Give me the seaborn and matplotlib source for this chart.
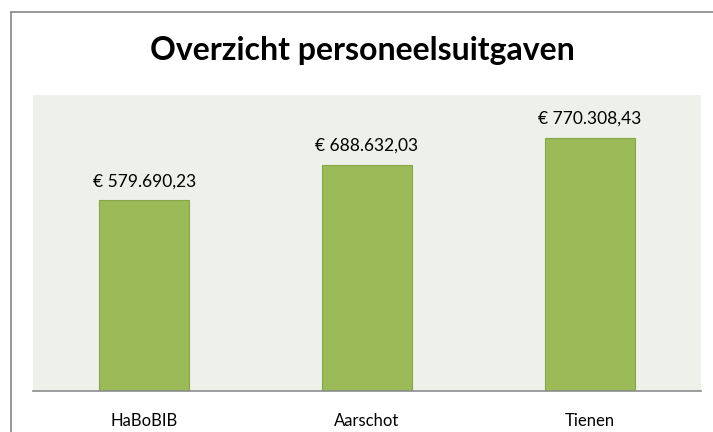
import pandas as pd
import seaborn as sns
import matplotlib.pyplot as plt
from matplotlib.lines import Line2D

# data
locaties = ["HaBoBIB", "Aarschot", "Tienen"]
uitgaven = [579690.23, 688632.03, 770308.43]

df = pd.DataFrame({"Locatie": locaties, "Uitgaven": uitgaven})


def euro(v):
    # Dutch notation: € 579.690,23
    s = f"{v:,.2f}".replace(",", "X").replace(".", ",").replace("X", ".")
    return "€ " + s


sns.set_style("white")
plt.rcParams['font.family'] = ['Lato', 'DejaVu Sans']

fig = plt.figure(figsize=(7.13, 4.32), dpi=100)
ax = fig.add_axes([0.0463, 0.095, 0.937, 0.685])

sns.barplot(data=df, x="Locatie", y="Uitgaven", color="#9BBB59",
            saturation=1, width=0.404, edgecolor="#86A64A", linewidth=0.8, ax=ax)

ax.set_facecolor("#EEF1E9")
ax.set_ylim(0, 900000)
ax.set_xlim(-0.5, 2.5)
ax.set_yticks([])
ax.set_xlabel("")
ax.set_ylabel("")
for side in ["top", "right", "left"]:
    ax.spines[side].set_visible(False)
ax.spines["bottom"].set_color("#8C8C8C")
ax.spines["bottom"].set_linewidth(1.2)
ax.tick_params(axis="x", length=0, pad=16, labelsize=12, colors="#000000")

for i, v in enumerate(uitgaven):
    ax.annotate(euro(v), (i, v), xytext=(0, 8), textcoords="offset points",
                ha="center", va="bottom", fontsize=12.5, color="#000000")

fig.text(0.508, 0.884, "Overzicht personeelsuitgaven", ha="center", va="center",
         fontsize=23, fontweight="bold", color="#000000")

# chart frame (only left and top edges visible in the crop)
fig.add_artist(Line2D([10.5 / 713, 10.5 / 713], [0, 1 - 12 / 432], transform=fig.transFigure,
                      color="#868686", linewidth=1.2))
fig.add_artist(Line2D([10.5 / 713, 1], [1 - 12 / 432, 1 - 12 / 432], transform=fig.transFigure,
                      color="#868686", linewidth=1.2))

fig.savefig("out.png", dpi=100, facecolor="white")
